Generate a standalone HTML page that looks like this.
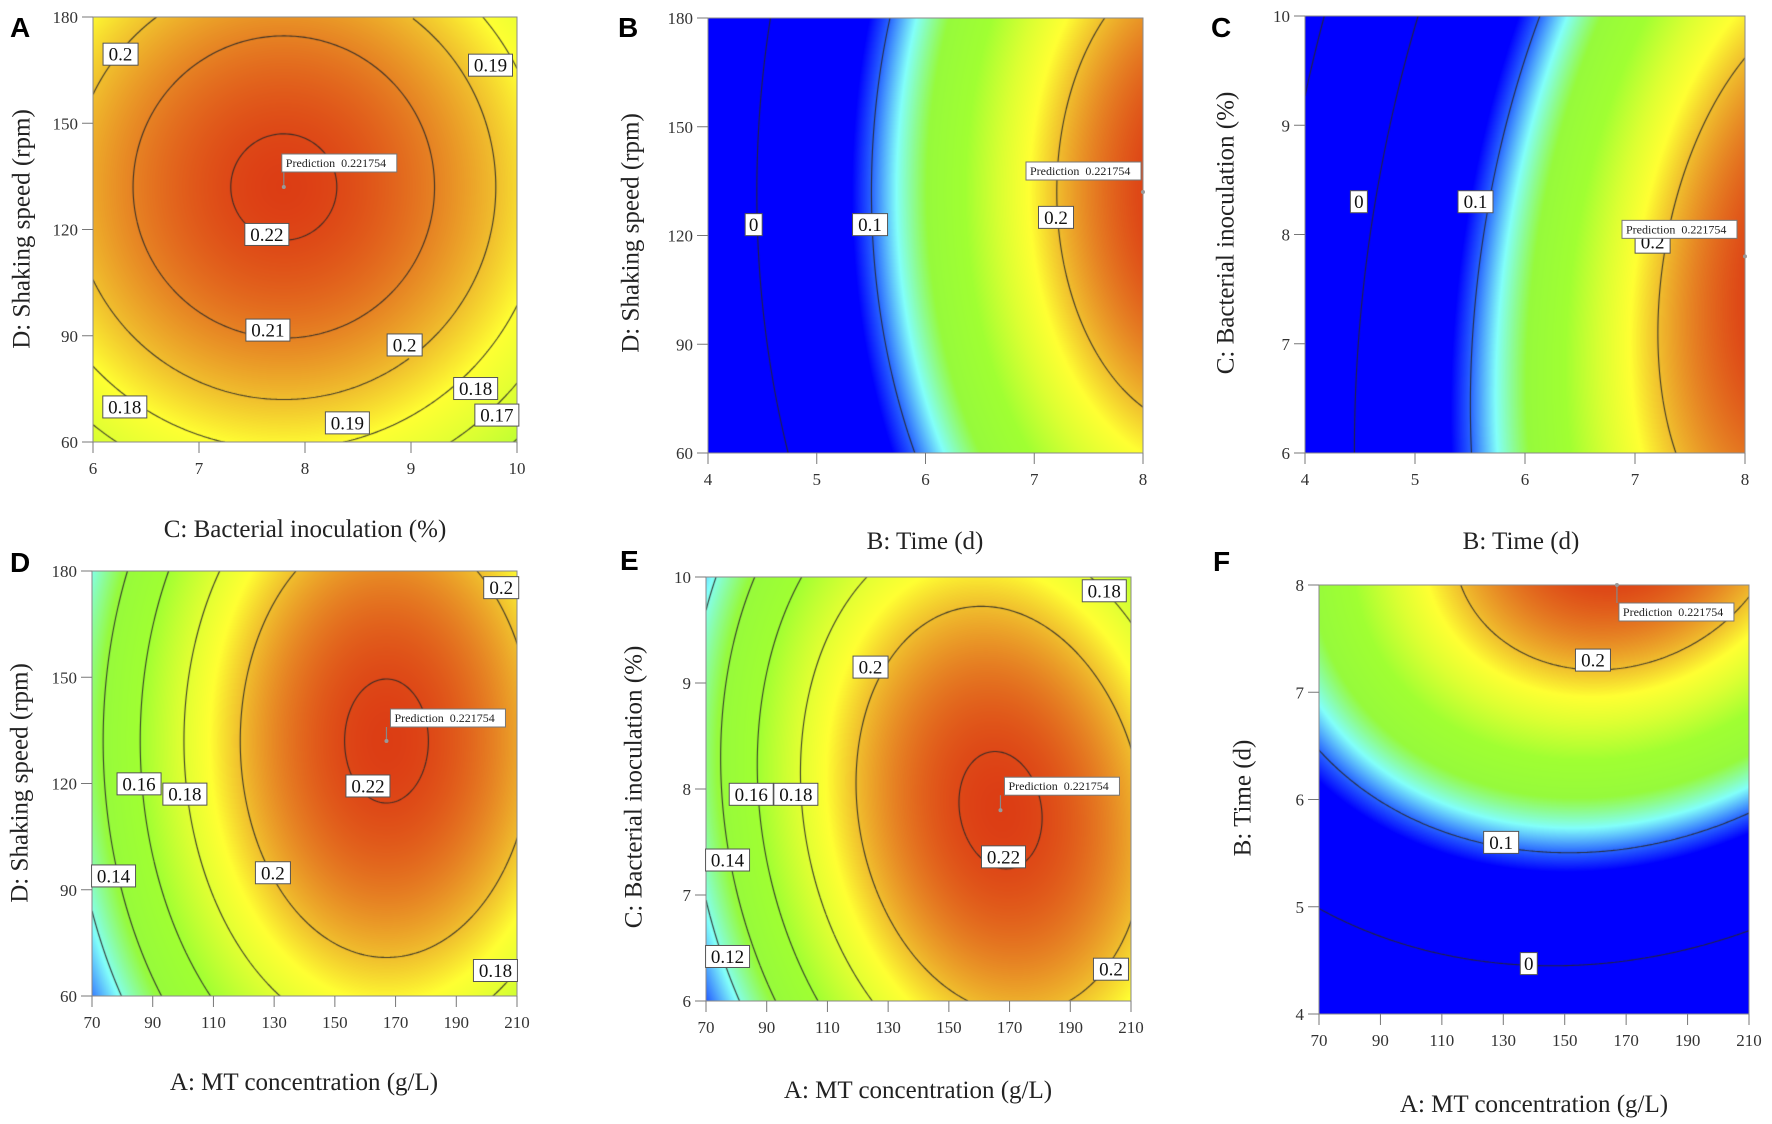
<!DOCTYPE html>
<html><head><meta charset="utf-8">
<style>
html,body{margin:0;padding:0;background:#fff}
#fig{position:relative;width:1772px;height:1124px;overflow:hidden;background:#fff}
canvas{position:absolute}
svg{position:absolute;left:0;top:0}
</style></head>
<body>
<div id="fig"></div>
<script>
// ---------- DATA ----------
// quadratic models: f = c0 + c1*u + c2*u^2 + d1*v + d2*v^2 + e*u*v  (u,v normalized to [-1,1])
// radial model (panel A): f = peak - k * ((u-u0)^2+(v-v0)^2)^h
const radialA = [0.2218, -0.1, 0.2, 0.0218, 0.9];
const coefB = [0.1362, 0.136, -0.0525, 0.0084, -0.021, 0];
const coefC = [0.12917, 0.14481, -0.05497, -0.02288, -0.0167, 0.01286];
const coefD = [0.2141, 0.0355, -0.046, 0.0084, -0.021, 0];
const coefE = [0.21476, 0.03616, -0.048, -0.001326, -0.024, -0.009];
const coefF = [0.13528, 0.0172, -0.043, 0.13342, -0.05347, 0.0129];

const levelsA = [0.17, 0.18, 0.19, 0.2, 0.21, 0.22];
const levelsB = [0, 0.1, 0.2];
const levelsC = [-0.1, 0, 0.1, 0.2];
const levelsD = [0.12, 0.14, 0.16, 0.18, 0.2, 0.22];
const levelsE = [0.12, 0.14, 0.16, 0.18, 0.2, 0.22];
const levelsF = [0, 0.1, 0.2];

const labelsA = [["0.2",6.26,169.5],["0.19",9.75,166.4],["0.22",7.64,118.6],["0.21",7.65,91.6],["0.2",8.94,87.4],["0.18",9.61,75.1],["0.17",9.81,67.6],["0.18",6.30,69.9],["0.19",8.40,65.4]];
const labelsB = [["0",4.42,123],["0.1",5.49,123],["0.2",7.20,125]];
const labelsC = [["0",4.49,8.30],["0.1",5.55,8.30],["0.2",7.16,7.93]];
const labelsD = [["0.2",204.8,175.3],["0.16",85.5,119.9],["0.18",100.6,117],["0.22",160.9,119.3],["0.14",77.1,93.9],["0.2",129.6,94.8],["0.18",202.9,67.2]];
const labelsE = [["0.18",201.2,9.87],["0.2",124.2,9.15],["0.16",84.9,7.95],["0.18",99.6,7.95],["0.22",168,7.36],["0.14",77.1,7.33],["0.12",77.1,6.42],["0.2",203.4,6.30]];
const labelsF = [["0.2",159.2,7.30],["0.1",129.3,5.60],["0",138.3,4.47]];

const predictionValue = "0.221754";
const predA = [7.8, 132];
const predB = [8, 132];
const predC = [8, 7.8];
const predD = [167, 132];
const predE = [167, 7.8];
const predF = [167, 8];

const ticksInoc = [6, 7, 8, 9, 10];
const ticksSpeed = [60, 90, 120, 150, 180];
const ticksTime = [4, 5, 6, 7, 8];
const ticksMT = [70, 90, 110, 130, 150, 170, 190, 210];

// colour ramp
const rampValues = [0.085, 0.100, 0.118, 0.138, 0.160, 0.178, 0.190, 0.200, 0.210, 0.222];
const rampColors = [[0,0,255],[40,100,255],[130,255,250],[150,250,60],[160,255,50],[220,255,50],[255,255,50],[240,190,45],[230,130,35],[220,60,20]];

function quad(c,u,v){ return c[0]+c[1]*u+c[2]*u*u+c[3]*v+c[4]*v*v+c[5]*u*v; }
function radial(r,u,v){ const d=(u-r[1])*(u-r[1])+(v-r[2])*(v-r[2]); return r[0]-r[3]*Math.pow(d,r[4]); }

// ---------- LAYOUT ----------
const panels = [
 {id:'a', rect:[93,17,517,442], xd:[6,10], yd:[60,180], xt:ticksInoc, yt:ticksSpeed, f:(u,v)=>radial(radialA,u,v), levels:levelsA, labels:labelsA, pred:predA, predOff:[-2,-33], predLine:true,
  xtitle:'C: Bacterial inoculation (%)', xtp:[305,537], ytitle:'D: Shaking speed (rpm)', ytp:[22,229], letter:['A',10,37]},
 {id:'b', rect:[708,18,1143,453], xd:[4,8], yd:[60,180], xt:ticksTime, yt:ticksSpeed, f:(u,v)=>quad(coefB,u,v), levels:levelsB, labels:labelsB, pred:predB, predOff:[-117,-30], predLine:false,
  xtitle:'B: Time (d)', xtp:[925,549], ytitle:'D: Shaking speed (rpm)', ytp:[631,233], letter:['B',618,37]},
 {id:'c', rect:[1305,16,1745,453], xd:[4,8], yd:[6,10], xt:ticksTime, yt:ticksInoc, f:(u,v)=>quad(coefC,u,v), levels:levelsC, labels:labelsC, pred:predC, predOff:[-123,-36], predLine:false,
  xtitle:'B: Time (d)', xtp:[1521,549], ytitle:'C: Bacterial inoculation (%)', ytp:[1226,233], letter:['C',1211,37]},
 {id:'d', rect:[92,571,517,996], xd:[70,210], yd:[60,180], xt:ticksMT, yt:ticksSpeed, f:(u,v)=>quad(coefD,u,v), levels:levelsD, labels:labelsD, pred:predD, predOff:[4,-32], predLine:true,
  xtitle:'A: MT concentration (g/L)', xtp:[304,1090], ytitle:'D: Shaking speed (rpm)', ytp:[20,783], letter:['D',10,572]},
 {id:'e', rect:[706,577,1131,1001], xd:[70,210], yd:[6,10], xt:ticksMT, yt:ticksInoc, f:(u,v)=>quad(coefE,u,v), levels:levelsE, labels:labelsE, pred:predE, predOff:[4,-33], predLine:true,
  xtitle:'A: MT concentration (g/L)', xtp:[918,1098], ytitle:'C: Bacterial inoculation (%)', ytp:[634,787], letter:['E',620,570]},
 {id:'f', rect:[1319,585,1749,1014], xd:[70,210], yd:[4,8], xt:ticksMT, yt:ticksTime, f:(u,v)=>quad(coefF,u,v), levels:levelsF, labels:labelsF, pred:predF, predOff:[2,18], predLine:true,
  xtitle:'A: MT concentration (g/L)', xtp:[1534,1112], ytitle:'B: Time (d)', ytp:[1243,798], letter:['F',1213,571]}
];

function ramp(val){
  if(val<=rampValues[0]) return rampColors[0];
  for(let i=1;i<rampValues.length;i++){
    if(val<=rampValues[i]){
      const t=(val-rampValues[i-1])/(rampValues[i]-rampValues[i-1]);
      const a=rampColors[i-1], b=rampColors[i];
      return [a[0]+(b[0]-a[0])*t, a[1]+(b[1]-a[1])*t, a[2]+(b[2]-a[2])*t];
    }
  }
  return rampColors[rampColors.length-1];
}

const fig=document.getElementById('fig');
const NS='http://www.w3.org/2000/svg';
const svg=document.createElementNS(NS,'svg');
svg.setAttribute('width','1772'); svg.setAttribute('height','1124');



function sv(tag){ return document.createElementNS(NS,tag); }

panels.forEach(p=>{
  const [x0,y0,x1,y1]=p.rect, W=x1-x0, H=y1-y0;
  const sx=d=>x0+(d-p.xd[0])/(p.xd[1]-p.xd[0])*W;
  const sy=d=>y1-(d-p.yd[0])/(p.yd[1]-p.yd[0])*H;
  const cv=document.createElement('canvas');
  cv.width=W; cv.height=H;
  cv.style.left=x0+'px'; cv.style.top=y0+'px';
  
  
  fig.appendChild(cv);
  const ctx=cv.getContext('2d');
  const img=ctx.createImageData(W,H);
  for(let j=0;j<H;j++){
    const v=1-2*(j+0.5)/H;
    for(let i=0;i<W;i++){
      const u=2*(i+0.5)/W-1;
      const c=ramp(p.f(u,v));
      const k=(j*W+i)*4;
      img.data[k]=c[0]; img.data[k+1]=c[1]; img.data[k+2]=c[2]; img.data[k+3]=255;
    }
  }
  ctx.putImageData(img,0,0);
  const st=2, nx=Math.ceil(W/st)+1, ny=Math.ceil(H/st)+1;
  const g=[];
  for(let j=0;j<ny;j++){ g[j]=[]; for(let i=0;i<nx;i++){ g[j][i]=p.f(2*(i*st)/W-1,1-2*(j*st)/H); } }
  ctx.strokeStyle='rgba(40,40,40,0.9)'; ctx.lineWidth=1.1;
  p.levels.forEach(L=>{
    ctx.beginPath();
    for(let j=0;j<ny-1;j++) for(let i=0;i<nx-1;i++){
      const a=g[j][i], b=g[j][i+1], c=g[j+1][i+1], d=g[j+1][i];
      const pts=[];
      const X=i*st, Y=j*st;
      if((a-L)*(b-L)<0) pts.push([X+st*(L-a)/(b-a),Y]);
      if((b-L)*(c-L)<0) pts.push([X+st,Y+st*(L-b)/(c-b)]);
      if((d-L)*(c-L)<0) pts.push([X+st*(L-d)/(c-d),Y+st]);
      if((a-L)*(d-L)<0) pts.push([X,Y+st*(L-a)/(d-a)]);
      for(let q=0;q+1<pts.length;q+=2){ ctx.moveTo(pts[q][0],pts[q][1]); ctx.lineTo(pts[q+1][0],pts[q+1][1]); }
    }
    ctx.stroke();
  });
  const fr=sv('rect');
  fr.setAttribute('x',x0); fr.setAttribute('y',y0); fr.setAttribute('width',W); fr.setAttribute('height',H);
  fr.setAttribute('fill','none'); fr.setAttribute('stroke','#8a8a8a'); fr.setAttribute('stroke-width','1');
  
  
  svg.appendChild(fr);
  p.xt.forEach(t=>{
    const X=sx(t);
    const ln=sv('line');
    ln.setAttribute('x1',X); ln.setAttribute('x2',X); ln.setAttribute('y1',y1); ln.setAttribute('y2',y1+11);
    ln.setAttribute('stroke','#777'); ln.setAttribute('stroke-width','1');
    
    
    svg.appendChild(ln);
    const tx=sv('text');
    tx.setAttribute('x',X); tx.setAttribute('y',y1+32); tx.setAttribute('text-anchor','middle');
    tx.setAttribute('font-family','Liberation Serif, serif'); tx.setAttribute('font-size','17'); tx.setAttribute('fill','#333');
    tx.textContent=t;
    
    
    svg.appendChild(tx);
  });
  p.yt.forEach(t=>{
    const Y=sy(t);
    const ln=sv('line');
    ln.setAttribute('x1',x0-11); ln.setAttribute('x2',x0); ln.setAttribute('y1',Y); ln.setAttribute('y2',Y);
    ln.setAttribute('stroke','#777'); ln.setAttribute('stroke-width','1');
    
    
    svg.appendChild(ln);
    const tx=sv('text');
    tx.setAttribute('x',x0-15); tx.setAttribute('y',Y+6); tx.setAttribute('text-anchor','end');
    tx.setAttribute('font-family','Liberation Serif, serif'); tx.setAttribute('font-size','17'); tx.setAttribute('fill','#333');
    tx.textContent=t;
    
    
    svg.appendChild(tx);
  });
  const xt=sv('text');
  xt.setAttribute('x',p.xtp[0]); xt.setAttribute('y',p.xtp[1]); xt.setAttribute('text-anchor','middle');
  xt.setAttribute('font-family','Liberation Serif, serif'); xt.setAttribute('font-size','25'); xt.setAttribute('fill','#222');
  xt.textContent=p.xtitle;
  
  
  svg.appendChild(xt);
  const yt=sv('text');
  yt.setAttribute('x',0); yt.setAttribute('y',0); yt.setAttribute('text-anchor','middle'); yt.setAttribute('dominant-baseline','central');
  yt.setAttribute('transform','translate('+p.ytp[0]+','+p.ytp[1]+') rotate(-90)');
  yt.setAttribute('font-family','Liberation Serif, serif'); yt.setAttribute('font-size','25'); yt.setAttribute('fill','#222');
  yt.textContent=p.ytitle;
  
  
  svg.appendChild(yt);
  p.labels.forEach(lb=>{
    const X=sx(lb[1]), Y=sy(lb[2]);
    const w=lb[0].length*9+8;
    const gr=sv('g');
    
    
    const r=sv('rect');
    r.setAttribute('x',X-w/2); r.setAttribute('y',Y-11); r.setAttribute('width',w); r.setAttribute('height',22);
    r.setAttribute('fill','#fff'); r.setAttribute('stroke','#555'); r.setAttribute('stroke-width','1');
    gr.appendChild(r);
    const tx=sv('text');
    tx.setAttribute('x',X); tx.setAttribute('y',Y+6.5); tx.setAttribute('text-anchor','middle');
    tx.setAttribute('font-family','Liberation Serif, serif'); tx.setAttribute('font-size','19'); tx.setAttribute('fill','#111');
    tx.textContent=lb[0];
    gr.appendChild(tx);
    svg.appendChild(gr);
  });
  const PX=sx(p.pred[0]), PY=sy(p.pred[1]);
  const bx=PX+p.predOff[0], by=PY+p.predOff[1], bw=115, bh=18;
  const pg=sv('g');
  
  
  if(p.predLine){
    const ln=sv('line');
    ln.setAttribute('x1',PX); ln.setAttribute('x2',PX); ln.setAttribute('y1',PY);
    ln.setAttribute('y2', p.predOff[1]<0 ? by+bh : by);
    ln.setAttribute('stroke','#888'); ln.setAttribute('stroke-width','1.2');
    pg.appendChild(ln);
  }
  const dot=sv('circle');
  dot.setAttribute('cx',PX); dot.setAttribute('cy',PY); dot.setAttribute('r','2'); dot.setAttribute('fill','#999');
  pg.appendChild(dot);
  const pr=sv('rect');
  pr.setAttribute('x',bx); pr.setAttribute('y',by); pr.setAttribute('width',bw); pr.setAttribute('height',bh);
  pr.setAttribute('fill','#fff'); pr.setAttribute('stroke','#777'); pr.setAttribute('stroke-width','1');
  pg.appendChild(pr);
  const pt=sv('text');
  pt.setAttribute('x',bx+4); pt.setAttribute('y',by+13); pt.setAttribute('font-family','Liberation Serif, serif');
  pt.setAttribute('font-size','12'); pt.setAttribute('fill','#222');
  pt.textContent='Prediction\u00a0\u00a0'+predictionValue;
  pg.appendChild(pt);
  svg.appendChild(pg);
  const lt=sv('text');
  lt.setAttribute('x',p.letter[1]); lt.setAttribute('y',p.letter[2]);
  lt.setAttribute('font-family','Liberation Sans, sans-serif'); lt.setAttribute('font-weight','bold'); lt.setAttribute('font-size','28'); lt.setAttribute('fill','#000');
  lt.textContent=p.letter[0];
  
  
  svg.appendChild(lt);
});
fig.appendChild(svg);
</script>
</body></html>
